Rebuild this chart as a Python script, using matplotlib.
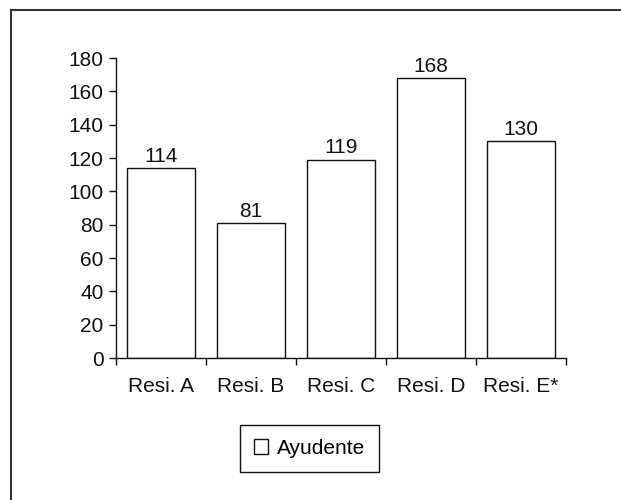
import matplotlib
matplotlib.use("Agg")
import matplotlib.pyplot as plt
from matplotlib.lines import Line2D
from matplotlib.patches import Patch

plt.rcParams["font.family"] = ["Liberation Sans", "DejaVu Sans"]

categories = ["Resi. A", "Resi. B", "Resi. C", "Resi. D", "Resi. E*"]
ayudante = [114, 81, 119, 168, 130]
y_ticks = [0, 20, 40, 60, 80, 100, 120, 140, 160, 180]
series_name = "Ayudente"

FS = 15
INK = "#111111"

fig = plt.figure(figsize=(6.21, 5.00), dpi=100)
ax = fig.add_axes([116 / 621, 1 - 358 / 500, 450 / 621, 300 / 500])

xs = list(range(len(categories)))
ax.bar(xs, ayudante, width=0.75, color="white", edgecolor=INK, linewidth=1.0)
for x, v in zip(xs, ayudante):
    ax.annotate(f"{v}", (x, v), xytext=(0, 4.5), textcoords="offset points",
                ha="center", va="baseline", fontsize=FS, color=INK)

ax.set_xlim(-0.5, len(categories) - 0.5)
ax.set_ylim(0, 180)

# category boundaries carry the ticks, the centres carry the names
ax.set_xticks([i - 0.5 for i in range(len(categories) + 1)])
ax.set_xticklabels([])
ax.set_xticks(xs, minor=True)
ax.set_xticklabels(categories, minor=True, fontsize=FS, color=INK)
ax.tick_params(axis="x", which="major", direction="out", length=5, width=1.0, color=INK)
ax.tick_params(axis="x", which="minor", length=0, pad=14)

ax.set_yticks(y_ticks)
ax.set_yticklabels([str(t) for t in y_ticks], fontsize=FS, color=INK)
ax.tick_params(axis="y", direction="out", length=5, width=1.0, color=INK, pad=4)

for side in ("top", "right"):
    ax.spines[side].set_visible(False)
for side in ("left", "bottom"):
    ax.spines[side].set_color(INK)
    ax.spines[side].set_linewidth(1.0)

leg = fig.legend(handles=[Patch(facecolor="white", edgecolor=INK, linewidth=1.0, label=series_name)],
                 loc="center", bbox_to_anchor=(309.5 / 621, 1 - 448.5 / 500),
                 fontsize=FS, frameon=True, fancybox=False, framealpha=1,
                 handlelength=0.7, handleheight=0.7, handletextpad=0.42,
                 borderpad=0.65, borderaxespad=0)
leg.get_frame().set_edgecolor(INK)
leg.get_frame().set_linewidth(1.0)

# outer chart-area frame: only its top and left edges fall inside the image
fx, fy = 11 / 621, 1 - 10 / 500
fig.add_artist(Line2D([fx, 1.05], [fy, fy], transform=fig.transFigure,
                      color="#333333", linewidth=1.5))
fig.add_artist(Line2D([fx, fx], [fy, -0.05], transform=fig.transFigure,
                      color="#333333", linewidth=1.5))

fig.savefig("out.png", dpi=100)
